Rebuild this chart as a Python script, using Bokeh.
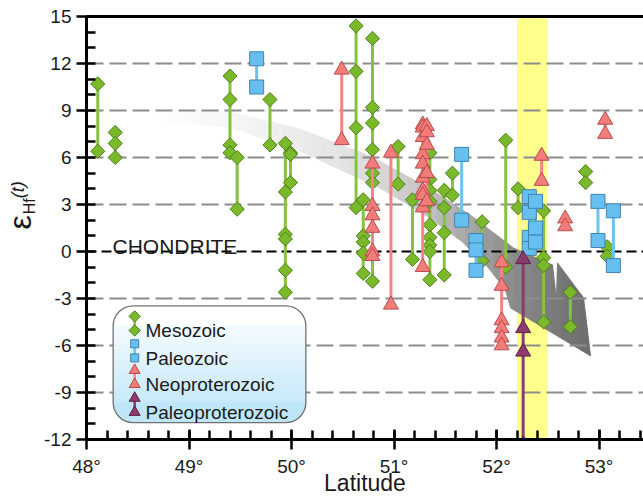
import numpy as np
from bokeh.plotting import figure
from bokeh.layouts import row
from bokeh.models import Range1d, LinearAxis, SingleIntervalTicker, FixedTicker, Span, Label
from bokeh.embed import file_html
from bokeh.resources import INLINE

FONT = "Liberation Sans"

# ---------------- data (latitude, eHf(t) values per sample group) ----------------
meso_lat = [48.11, 48.28, 49.40, 49.47, 49.79, 49.94, 49.99, 50.63, 50.70, 50.79, 51.04,
            51.18, 51.35, 51.49, 51.57, 51.86, 52.09, 52.21, 52.46, 52.72, 52.87, 53.08]
meso_eps = [
    [10.7, 6.4],
    [7.6, 6.9, 6.0],
    [11.2, 9.7, 6.8, 6.3],
    [6.0, 2.7],
    [9.7, 6.8],
    [6.9, 3.8, 1.1, 0.8, -1.2, -2.6],
    [6.3, 6.2, 4.4],
    [14.4, 11.5, 7.9, 2.8],
    [3.3, 1.0, 0.6, -0.1, -1.4],
    [13.6, 9.2, 8.2, 6.5, 5.0, 4.4, -1.9],
    [6.7, 4.3],
    [3.3, -0.5],
    [6.3, 4.6, 3.9, 3.2, 1.7, 0.9, 0.4, 0.0, -1.8],
    [3.9, 2.8, 1.2, -1.5],
    [5.0, 3.6],
    [1.9, -0.6],
    [7.1, -1.0],
    [4.0, 2.8],
    [2.6, -0.4, -0.9, -4.5],
    [-2.6, -4.8],
    [5.1, 4.4],
    [0.3, -0.3],
]

paleoz_lat = [49.66, 51.66, 51.80, 52.32, 52.38, 52.99, 53.14]
paleoz_eps = [
    [12.3, 10.5],
    [6.2, 2.0],
    [0.7, 0.1, -1.2],
    [3.5, 2.5, 0.9, 0.2],
    [3.2, 1.5, 0.6],
    [3.2, 0.7],
    [2.6, -0.9],
]

neo_lat = [50.49, 50.79, 50.97, 51.28, 51.32, 52.05, 52.44, 52.67, 53.06]
neo_eps = [
    [11.6, 7.1],
    [5.6, 2.9, 2.3, 1.5, 0.0, -0.3],
    [6.3, -3.4],
    [8.1, 7.9, 7.3, 6.2, 5.6, 4.7, 3.9, 3.6, 2.8, -1.0],
    [8.0, 7.6, 6.8, 5.0, 3.2],
    [-0.7, -2.2, -4.4, -4.9, -5.5, -6.0],
    [6.1, 4.5],
    [2.1, 1.6],
    [8.4, 7.5],
]

paleop_lat = [52.26]
paleop_eps = [[-0.5, -4.9, -6.4, -12.3]]

x_ticks = [48, 49, 50, 51, 52, 53]
y_ticks = [-12, -9, -6, -3, 0, 3, 6, 9, 12, 15]
legend_names = ["Mesozoic", "Paleozoic", "Neoproterozoic", "Paleoproterozoic"]
band_lat = [52.2, 52.5]

# trend arrow outline (lat, eps) and its shading
arrow_lat = [48.702, 49.405, 50.088, 50.771, 51.356, 51.746, 52.166, 52.546, 52.585, 52.595,
             52.849, 52.917, 52.137, 52.088, 51.922, 51.668, 51.356, 50.868, 50.088, 49.405, 48.702]
arrow_eps = [9.08, 8.89, 7.80, 6.08, 3.98, 2.32, 0.22, -0.86, -3.09, -0.73,
             -2.96, -6.66, -3.60, -2.45, -1.05, 0.61, 2.13, 4.04, 6.40, 7.93, 8.38]
shade_lat = [48.70, 49.60, 50.58, 51.27, 51.76, 52.24, 52.92]
shade_gray = [254, 244, 226, 198, 165, 135, 108]

# ---------------- layout sizes ----------------
W, H = 643, 498
LEFT_W = 38          # strip holding the y-axis title
X0, X1 = 48, 53.434
Y0, Y1 = -12, 15

# ---------------- y-axis title strip ----------------
lf = figure(width=LEFT_W, height=H, x_range=Range1d(0, LEFT_W), y_range=Range1d(0, H),
            x_axis_type=None, y_axis_type=None, output_backend="svg", toolbar_location=None,
            min_border=0)
lf.outline_line_color = None
lf.background_fill_color = "white"
lf.border_fill_color = "white"
lf.add_layout(Label(x=19.5, y=255.5, text="ε", text_font=FONT, text_font_size="32px", angle=np.pi / 2,
                    text_color="#1a1a1a", text_align="center", text_baseline="middle"))
lf.add_layout(Label(x=28.5, y=274.5, text="Hf", text_font=FONT, text_font_size="16px", angle=np.pi / 2,
                    text_color="#1a1a1a", text_align="center", text_baseline="middle"))
lf.add_layout(Label(x=17.5, y=294, text="(t)", text_font=FONT, text_font_size="18px", angle=np.pi / 2,
                    text_font_style="italic", text_color="#1a1a1a", text_align="center",
                    text_baseline="middle"))

# ---------------- main figure ----------------
p = figure(width=W - LEFT_W, height=H, x_range=Range1d(X0, X1), y_range=Range1d(Y0, Y1),
           output_backend="svg", toolbar_location=None,
           min_border_left=86 - LEFT_W, min_border_right=0, min_border_top=16, min_border_bottom=58)
p.outline_line_color = None
p.background_fill_color = "white"
p.border_fill_color = "white"

p.xaxis.ticker = SingleIntervalTicker(interval=1, num_minor_ticks=5)
p.yaxis.ticker = SingleIntervalTicker(interval=3, num_minor_ticks=3)
for ax in (p.xaxis[0], p.yaxis[0]):
    ax.axis_line_width = 3
    ax.axis_line_color = "black"
    ax.major_tick_line_width = 2.5
    ax.minor_tick_line_width = 2.5
    ax.major_tick_line_color = "black"
    ax.minor_tick_line_color = "black"
    ax.major_label_text_font = FONT
    ax.major_label_text_font_size = "19px"
    ax.major_label_text_color = "#1a1a1a"
p.xaxis.major_tick_in = 10
p.xaxis.major_tick_out = 10
p.xaxis.minor_tick_in = 9
p.xaxis.minor_tick_out = 0
p.xaxis.major_label_standoff = 6
p.xaxis.axis_label = "Latitude"
p.xaxis.axis_label_text_font = FONT
p.xaxis.axis_label_text_font_size = "23px"
p.xaxis.axis_label_text_font_style = "normal"
p.xaxis.axis_label_text_color = "#1a1a1a"
p.xaxis.axis_label_standoff = -10
p.yaxis.major_tick_in = 0
p.yaxis.major_tick_out = 10
p.yaxis.minor_tick_in = 9
p.yaxis.minor_tick_out = 0
p.yaxis.major_label_standoff = 5
p.xaxis.major_label_overrides = {t: f"{t}°" for t in x_ticks}
p.yaxis.major_label_overrides = {t: str(t) for t in y_ticks}

top_axis = LinearAxis(ticker=FixedTicker(ticks=[]), major_tick_in=0, major_tick_out=0,
                      minor_tick_in=0, minor_tick_out=0, axis_line_width=3, axis_line_color="black")
p.add_layout(top_axis, "above")

p.xgrid.visible = False
p.ygrid.ticker = FixedTicker(ticks=[t for t in y_ticks if t not in (0, Y0, Y1)])
p.ygrid.grid_line_color = "#8c8c8c"
p.ygrid.grid_line_dash = "17 6"
p.ygrid.grid_line_width = 2

# yellow band
p.quad(left=[band_lat[0]], right=[band_lat[1]], bottom=[Y0], top=[Y1],
       fill_color="#FFFF8C", line_color=None, level="image")

# shaded arrow: cut into vertical strips with increasing darkness
poly = list(zip(arrow_lat, arrow_eps))


def _cut(pts, xa, keep_right):
    out = []
    for i in range(len(pts)):
        cur, prev = pts[i], pts[i - 1]
        cin = cur[0] >= xa if keep_right else cur[0] <= xa
        pin = prev[0] >= xa if keep_right else prev[0] <= xa
        if cin != pin:
            t = (xa - prev[0]) / (cur[0] - prev[0])
            out.append((xa, prev[1] + t * (cur[1] - prev[1])))
        if cin:
            out.append(cur)
    return out


edges = np.linspace(min(arrow_lat), max(arrow_lat), 46)
sx, sy, sc = [], [], []
for a, b in zip(edges[:-1], edges[1:]):
    piece = _cut(_cut(poly, a, True), b, False)
    if len(piece) < 3:
        continue
    g = int(round(np.interp(0.5 * (a + b), shade_lat, shade_gray)))
    sx.append([q[0] for q in piece])
    sy.append([q[1] for q in piece])
    sc.append(f"#{g:02x}{g:02x}{g:02x}")
p.patches(sx, sy, fill_color=sc, line_color=sc, line_width=1, level="image")

p.add_layout(Span(location=0, dimension="width", line_color="black", line_width=2,
                  line_dash="10 5", level="underlay"))

MESO = dict(line="#86C13F", fill="#7AB929", edge="#4C7F1A", marker="square", size=10, angle=np.pi / 4)
PZ = dict(line="#6CC3EE", fill="#66BFEE", edge="#3F84B0", marker="square", size=14, angle=0.0)
NEO = dict(line="#F08683", fill="#F27C7A", edge="#B84C4C", marker="triangle", size=15, angle=0.0)
PP = dict(line="#8D3B6F", fill="#8D3B6F", edge="#5E2249", marker="triangle", size=15, angle=0.0)


def draw_series(lats, groups, st):
    p.segment(x0=lats, x1=lats, y0=[min(g) for g in groups], y1=[max(g) for g in groups],
              line_color=st["line"], line_width=3)
    xs = [lat for lat, g in zip(lats, groups) for _ in g]
    ys = [v for g in groups for v in g]
    p.scatter(xs, ys, marker=st["marker"], size=st["size"], angle=st["angle"],
              fill_color=st["fill"], line_color=st["edge"], line_width=1)


draw_series(meso_lat, meso_eps, MESO)
draw_series(neo_lat, neo_eps, NEO)
draw_series(paleoz_lat, paleoz_eps, PZ)
draw_series(paleop_lat, paleop_eps, PP)

# ---------------- legend (rounded box with white-to-blue gradient) ----------------
LB_L, LB_R, LB_T, LB_B = 48.26, 50.14, -3.47, -10.92
RAD = 20
rad_data = RAD / 15.70
top_c = (255, 255, 255)
bot_c = (188, 229, 248)


def mix(f):
    c = [int(round(top_c[k] + (bot_c[k] - top_c[k]) * f)) for k in range(3)]
    return "#%02x%02x%02x" % tuple(c)


p.quad(left=[LB_L], right=[LB_R], top=[LB_T], bottom=[LB_B], fill_color="white",
       line_color=None, border_radius=RAD)
g_top = LB_T - rad_data
g_bot = LB_B + rad_data
# bottom cap (fully rounded; its upper corners get covered by the slices)
p.quad(left=[LB_L], right=[LB_R], top=[g_bot + 2 * rad_data], bottom=[LB_B], fill_color=mix(0.95),
       line_color=None, border_radius=RAD)
n_sl = 20
ys_ = np.linspace(g_top, g_bot, n_sl + 1)
for a, b in zip(ys_[:-1], ys_[1:]):
    f = (LB_T - 0.5 * (a + b)) / (LB_T - LB_B)
    col = mix(f)
    p.quad(left=[LB_L], right=[LB_R], top=[a + 0.02], bottom=[b], fill_color=col, line_color=None)
p.quad(left=[LB_L], right=[LB_R], top=[LB_T], bottom=[LB_B], fill_color=None,
       line_color="#707070", line_width=1.3, border_radius=RAD)

entry_c = [-4.59, -6.34, -8.03, -9.81]
mk_lat = 48.47
half = 0.45
leg_styles = [
    dict(MESO, size=8),
    dict(PZ, size=8),
    dict(NEO, size=11),
    dict(PP, size=11),
]
for c, st, name in zip(entry_c, leg_styles, legend_names):
    p.segment(x0=[mk_lat], x1=[mk_lat], y0=[c - half], y1=[c + half], line_color=st["line"], line_width=2.5)
    p.scatter([mk_lat, mk_lat], [c - half, c + half], marker=st["marker"], size=st["size"],
              angle=st["angle"], fill_color=st["fill"], line_color=st["edge"], line_width=1)
    p.add_layout(Label(x=48.576, y=c - 0.47, text=name, text_font=FONT, text_font_size="19px",
                       text_color="#1a1a1a", text_align="left", text_baseline="alphabetic"))

p.add_layout(Label(x=48.254, y=0.35, text="CHONDRITE", text_font=FONT, text_font_size="21px",
                   text_color="#1a1a1a", text_align="left", text_baseline="alphabetic"))

layout = row(lf, p, spacing=0)
open("out.html", "w").write(file_html(layout, INLINE))
